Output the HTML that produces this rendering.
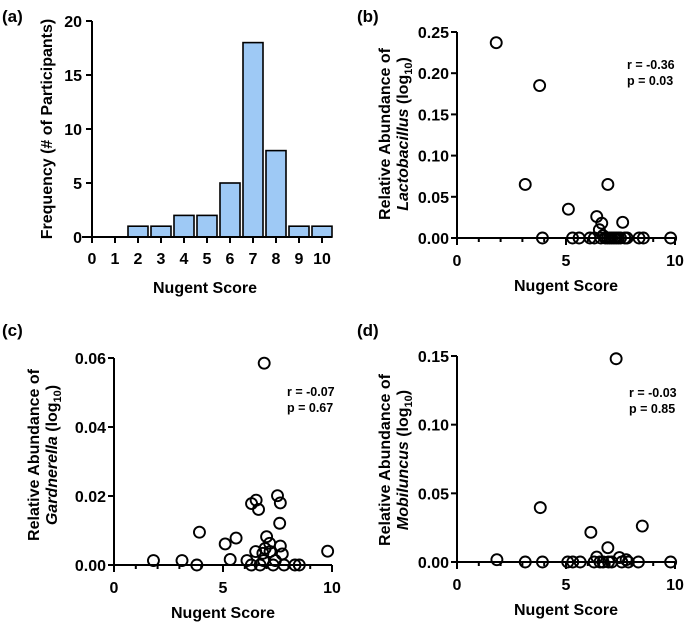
<!DOCTYPE html>
<html><head><meta charset="utf-8"><style>
body{margin:0;background:#fff;}
svg{display:block;font-family:"Liberation Sans",Arial,sans-serif;font-weight:bold;}
</style></head><body>
<svg id="c" width="685" height="623" viewBox="0 0 685 623"></svg>
<script>
const histCats=[0,1,2,3,4,5,6,7,8,9,10];
const histVals=[0,0,1,1,2,2,5,18,8,1,1];
const histYTicks=[0,5,10,15,20];
const bX=[1.8,3.79,3.13,3.92,5.11,5.3,5.6,6.1,6.3,6.41,6.64,6.53,6.7,6.92,7.6,6.6,6.8,6.9,7.0,7.1,7.2,7.3,7.4,7.5,7.7,7.8,8.35,8.55,9.8];
const bY=[0.237,0.185,0.065,0,0.035,0,0,0,0,0.026,0.018,0.01,0.003,0.065,0.019,0,0,0,0,0,0,0,0,0,0,0,0,0,0];
const bTicks=["0.00","0.05","0.10","0.15","0.20","0.25"];
const cX=[1.81,3.12,3.8,3.92,5.1,5.33,5.6,6.1,6.31,6.52,6.63,6.5,6.3,6.7,6.89,6.86,6.83,7.0,6.93,7.14,7.16,7.3,7.4,7.5,7.63,7.6,7.63,7.72,7.8,8.3,8.5,9.8];
const cY=[0.0013,0.0013,0,0.0095,0.0061,0.0016,0.0078,0.0013,0.0178,0.0188,0.0161,0.0039,0,0,0.0585,0.0013,0.0034,0.0082,0.0048,0.0063,0.0039,0,0.0013,0.0201,0.018,0.0121,0.0055,0.0032,0,0,0,0.004];
const cTicks=["0.00","0.02","0.04","0.06"];
const dX=[1.83,3.13,3.82,3.92,5.08,5.31,5.65,6.14,6.29,6.41,6.56,6.7,6.92,6.95,7.1,7.3,7.45,7.56,7.76,7.86,8.32,8.5,9.8];
const dY=[0.0017,0,0.0396,0,0,0,0,0.0216,0,0.0036,0,0,0.0104,0,0,0.148,0.0032,0,0.0017,0,0,0.0262,0];
const dTicks=["0.00","0.05","0.10","0.15"];
const xTicks=[0,5,10];

const S=document.getElementById('c');const NS='http://www.w3.org/2000/svg';
function el(t,a,p){const e=document.createElementNS(NS,t);for(const k in a)e.setAttribute(k,a[k]);(p||S).appendChild(e);return e;}
function txt(x,y,s,o,name){const e=el('text',Object.assign({x:x,y:y,'font-size':14},o||{}));e.textContent=s;

return e;}
function line(x1,y1,x2,y2,name){const e=el('line',{x1,y1,x2,y2,stroke:'#000','stroke-width':2});

}

// Panel a
(function(){
 const x0=92,u=23,yb=237,yt=21,ymax=20;
 const X=v=>x0+v*u, Y=v=>yb-(v/ymax)*(yb-yt);
 txt(2,22,'(a)',{'font-size':17},'panel-a-label');
 histCats.forEach((c,i)=>{const h=histVals[i];if(h>0){const r=el('rect',{x:X(c)-10,y:Y(h),width:20,height:yb-Y(h),fill:'#9ec9f5',stroke:'#000','stroke-width':1.6});
  
  }
  else{line(X(c)-10,yb,X(c)+10,yb,'bar-'+c);} });
 line(x0,yt,x0,yb+1,'y-axis-a');line(x0,yb,x0+240,yb,'x-axis-a');
 histYTicks.forEach(v=>{line(x0-6,Y(v),x0,Y(v),'y-tick-a');txt(x0-10,Y(v)+6,String(v),{'text-anchor':'end','font-size':16},'y-tick-label-a');});
 histCats.forEach(v=>{line(X(v),yb,X(v),yb+6,'x-tick-a');txt(X(v),264,String(v),{'text-anchor':'middle','font-size':16},'x-tick-label-a');});
 txt(205,293,'Nugent Score',{'text-anchor':'middle','font-size':16},'x-axis-title-a');
 txt(0,0,'Frequency (# of Participants)',{'text-anchor':'middle','font-size':16,transform:'translate(52,129) rotate(-90)'},'y-axis-title-a');
})();

function scatter(p){
 const X=v=>p.x0+v*p.u, Y=v=>p.yb-(v/p.ymax)*(p.yb-p.yt);
 txt(p.lx,p.ly,p.label,{'font-size':17},'panel-'+p.id+'-label');
 line(p.x0,p.yt,p.x0,p.yb+7,'y-axis-'+p.id);line(p.x0-6,p.yb,X(10),p.yb,'x-axis-'+p.id);
 p.ticks.forEach((t,i)=>{const v=parseFloat(t);line(p.x0-6,Y(v),p.x0,Y(v),'y-tick-'+p.id);txt(p.x0-8,Y(v)+6,t,{'text-anchor':'end','font-size':16},'y-tick-label-'+p.id);});
 for(let k=1;k<=10;k++){line(X(k),p.yb,X(k),p.yb+(k%5?4:7),'x-tick-'+p.id);}
 xTicks.forEach(v=>txt(X(v),p.yb+28,String(v),{'text-anchor':'middle','font-size':16},'x-tick-label-'+p.id));
 txt(X(5),p.yb+53,'Nugent Score',{'text-anchor':'middle','font-size':16},'x-axis-title-'+p.id);
 const g=el('text',{'text-anchor':'middle','font-size':16,transform:`translate(${p.tx},${p.ty}) rotate(-90)`});
 
 
 g.innerHTML=`<tspan x="0" y="0">Relative Abundance of</tspan><tspan x="0" y="18"><tspan font-style="italic">${p.genus}</tspan> (log<tspan font-size="11" dy="4">10</tspan><tspan dy="-4">)</tspan></tspan>`;
 p.xs.forEach((xv,i)=>{const c=el('circle',{cx:X(xv),cy:Y(p.ys[i]),r:5.5,fill:'none',stroke:'#000','stroke-width':1.9});
  
  });
 txt(p.rx,p.ry,p.r,{'font-size':12.5},'r-value-'+p.id);
 txt(p.rx,p.ry+16,p.pv,{'font-size':12.5},'p-value-'+p.id);
}
scatter({id:'b',label:'(b)',lx:357,ly:22,x0:457,u:21.8,yb:238,yt:32,ymax:0.25,ticks:bTicks,xs:bX,ys:bY,genus:'Lactobacillus',tx:390,ty:134,r:'r = -0.36',pv:'p = 0.03',rx:627,ry:69});
scatter({id:'c',label:'(c)',lx:2,ly:336,x0:114,u:21.8,yb:565,yt:358,ymax:0.06,ticks:cTicks,xs:cX,ys:cY,genus:'Gardnerella',tx:39,ty:455,r:'r = -0.07',pv:'p = 0.67',rx:287,ry:396});
scatter({id:'d',label:'(d)',lx:357,ly:336,x0:457,u:21.8,yb:562,yt:356,ymax:0.15,ticks:dTicks,xs:dX,ys:dY,genus:'Mobiluncus',tx:390,ty:460,r:'r = -0.03',pv:'p = 0.85',rx:629,ry:397});
</script>
</body></html>
